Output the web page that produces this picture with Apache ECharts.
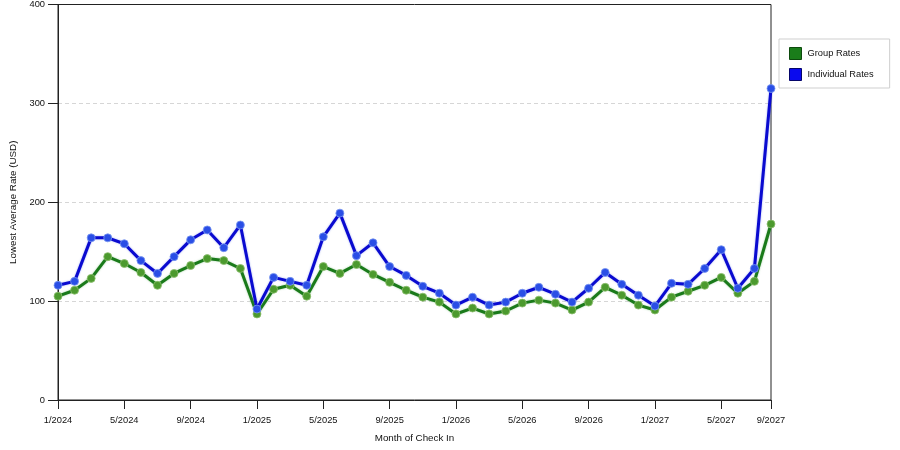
<!DOCTYPE html>
<html lang="en">
<head>
    <meta charset="UTF-8">
    <title>Lowest Average Rate</title>
    <style>
        html, body { margin: 0; padding: 0; background: #fff; }
    </style>
</head>
<body>
<div id="main" style="width: 900px;height:450px;"></div>

<script src="https://cdn.jsdelivr.net/npm/echarts@6/dist/echarts.min.js"></script>

<script type="text/javascript">
    // months of check in (8/2027 is not in the source data)
    var months = [
        '1/2024', '2/2024', '3/2024', '4/2024', '5/2024', '6/2024', '7/2024', '8/2024', '9/2024', '10/2024', '11/2024', '12/2024',
        '1/2025', '2/2025', '3/2025', '4/2025', '5/2025', '6/2025', '7/2025', '8/2025', '9/2025', '10/2025', '11/2025', '12/2025',
        '1/2026', '2/2026', '3/2026', '4/2026', '5/2026', '6/2026', '7/2026', '8/2026', '9/2026', '10/2026', '11/2026', '12/2026',
        '1/2027', '2/2027', '3/2027', '4/2027', '5/2027', '6/2027', '7/2027', '9/2027'
    ];

    var groupRates = [
        105, 111, 123, 145, 138, 129, 116, 128, 136, 143, 141, 133,
        87, 112, 116, 105, 135, 128, 137, 127, 119, 111, 104, 99,
        87, 93, 87, 90, 98, 101, 98, 91, 99, 114, 106, 96,
        91, 104, 110, 116, 124, 108, 120, 178
    ];

    var individualRates = [
        116, 120, 164, 164, 158, 141, 128, 145, 162, 172, 154, 177,
        92, 124, 120, 116, 165, 189, 146, 159, 135, 126, 115, 108,
        96, 104, 96, 99, 108, 114, 107, 99, 113, 129, 117, 106,
        95, 118, 117, 133, 152, 113, 133, 315
    ];

    var yTicks = [0, 100, 200, 300, 400];

    var font = 'Liberation Sans';

    // only every 4th month and the last one get a label
    function showMonth(index) {
        return index % 4 === 0 || index === months.length - 1;
    }

    var myChart = echarts.init(document.getElementById('main'));

    var option = {
        animation: false,
        textStyle: { fontFamily: font },
        grid: {
            left: 58, right: 129, top: 4, bottom: 50,
            show: true,
            borderColor: '#222',
            borderWidth: 1
        },
        legend: {
            orient: 'vertical',
            left: 779,
            top: 39,
            padding: [8, 16, 7, 10],
            itemWidth: 12,
            itemHeight: 12,
            itemGap: 8,
            borderColor: '#cfcfcf',
            borderWidth: 1,
            icon: 'rect',
            textStyle: { fontFamily: font, fontSize: 9.3, color: '#111', padding: [0, 0, 0, 1] },
            data: [
                { name: 'Group Rates', itemStyle: { color: '#1a7d1a', borderColor: '#0d4a0d', borderWidth: 1 } },
                { name: 'Individual Rates', itemStyle: { color: '#0a0aee', borderColor: '#05056a', borderWidth: 1 } }
            ]
        },
        xAxis: {
            type: 'category',
            data: months,
            boundaryGap: false,
            name: 'Month of Check In',
            nameLocation: 'middle',
            nameGap: 33,
            nameTextStyle: { fontFamily: font, fontSize: 9.8, color: '#111' },
            axisLine: { lineStyle: { color: '#222', width: 1 } },
            axisTick: { show: true, length: 9, interval: function (i) { return showMonth(i); }, lineStyle: { color: '#222' } },
            axisLabel: {
                interval: function (i) { return showMonth(i); },
                fontFamily: font, fontSize: 9.3, color: '#111', margin: 16
            },
            splitLine: { show: false }
        },
        yAxis: {
            type: 'value',
            min: yTicks[0],
            max: yTicks[yTicks.length - 1],
            interval: 100,
            name: 'Lowest Average Rate (USD)',
            nameLocation: 'middle',
            nameGap: 37,
            nameTextStyle: { fontFamily: font, fontSize: 9.8, color: '#111' },
            axisLine: { show: true, lineStyle: { color: '#222', width: 1 } },
            axisTick: { show: true, length: 10, lineStyle: { color: '#222' } },
            axisLabel: { fontFamily: font, fontSize: 9.3, color: '#111', margin: 13 },
            splitLine: {
                show: true, showMinLine: false, showMaxLine: false,
                lineStyle: { color: '#d6d6d6', type: [4, 3], width: 1 }
            }
        },
        series: [
            {
                name: 'Group Rates',
                type: 'line',
                data: groupRates,
                symbol: 'circle',
                symbolSize: 8,
                lineStyle: { color: '#1a7a1a', width: 3, shadowColor: 'rgba(90,170,90,0.6)', shadowBlur: 2 },
                itemStyle: { color: '#4c9a2e', borderColor: 'rgba(140,190,110,0.8)', borderWidth: 1 },
                z: 2
            },
            {
                name: 'Individual Rates',
                type: 'line',
                data: individualRates,
                symbol: 'circle',
                symbolSize: 8,
                lineStyle: { color: '#0a0ad0', width: 3, shadowColor: 'rgba(90,110,230,0.6)', shadowBlur: 2 },
                itemStyle: { color: '#2a4ee6', borderColor: 'rgba(120,150,240,0.8)', borderWidth: 1 },
                z: 3
            }
        ]
    };

    myChart.setOption(option);
</script>
</body>
</html>
